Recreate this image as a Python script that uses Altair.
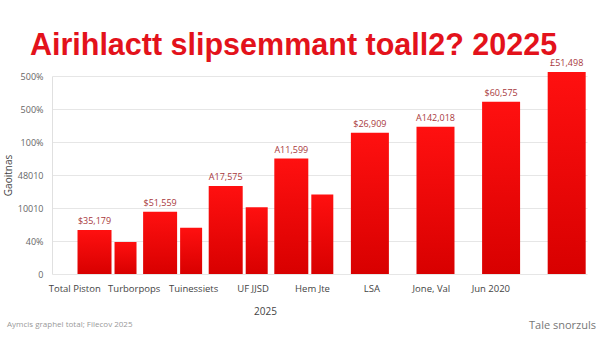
import json
import altair as alt
import pandas as pd

categories = ["Total Piston", "Turborpops", "Tuinessiets", "UF JJSD",
              "Hem Jte", "LSA", "Jone, Val", "Jun 2020"]
primary = [1.33, 1.89, 2.67, 3.50, 4.28, 4.46, 5.22, 6.12]
secondary = [0.97, 1.40, 2.02, 2.41, None, None, None, None]
bar_labels = ["$35,179", "$51,559", "A17,575", "A11,599",
              "$26,909", "A142,018", "$60,575", "£51,498"]
y_ticks = [0, 1, 2, 3, 4, 5, 6]
y_tick_labels = ["0", "40%", "10010", "48010", "100%", "500%", "500%"]
title_text = "Airihlactt slipsemmant toall2? 20225"
y_title = "Gaoitnas"
x_title = "2025"
footer_left = ["Aymcis graphel total; Filecov 2025"]
footer_right = ["Tale snorzuls"]

df = pd.DataFrame({
    "category": categories,
    "primary": primary,
    "secondary": secondary,
    "label": bar_labels,
})
df["paired"] = df["secondary"].notna()
df_pair = df[df["paired"]]
df_single = df[~df["paired"]]

RED = alt.Gradient(
    gradient="linear",
    stops=[alt.GradientStop(color="#ff1010", offset=0),
           alt.GradientStop(color="#d80000", offset=1)],
    x1=0, x2=0, y1=0, y2=1,
)

xscale = alt.Scale(domain=categories, paddingInner=0.5, paddingOuter=0.328, align=0.909)
X = alt.X("category:N", scale=xscale, axis=None, sort=categories)

label_expr = json.dumps(y_tick_labels) + "[datum.value]"
yaxis = alt.Axis(values=y_ticks, labelExpr=label_expr, title=y_title,
                 grid=True, gridColor="#e6e6e6", domain=True, domainColor="#e0e0e0",
                 ticks=False, labelPadding=9, labelColor="#666", labelFontSize=9,
                 labelFont="Open Sans", titleFont="Open Sans", titleFontSize=10,
                 titleFontWeight="normal", titleColor="#444", titlePadding=4)
yscale = alt.Scale(domain=[0, 6], nice=False)

bars_p = alt.Chart(df_pair).mark_bar(color=RED, size=34, xOffset=-13).encode(
    x=X, y=alt.Y("primary:Q", scale=yscale, axis=yaxis))
bars_s = alt.Chart(df_pair).mark_bar(color=RED, size=22, xOffset=18).encode(
    x=X, y=alt.Y("secondary:Q", scale=yscale, axis=yaxis))
bars_1 = alt.Chart(df_single).mark_bar(color=RED, size=38).encode(
    x=X, y=alt.Y("primary:Q", scale=yscale, axis=yaxis))

txt_kw = dict(baseline="bottom", dy=-4, fontSize=9, color="#a8383c", font="Open Sans")
text_p = alt.Chart(df_pair).mark_text(xOffset=-13, **txt_kw).encode(
    x=X, y=alt.Y("primary:Q", scale=yscale, axis=yaxis), text="label:N")
text_1 = alt.Chart(df_single).mark_text(**txt_kw).encode(
    x=X, y=alt.Y("primary:Q", scale=yscale, axis=yaxis), text="label:N")

bars = alt.layer(bars_p, bars_s, bars_1, text_p, text_1)

axis_layer = alt.Chart(df).mark_point(opacity=0).encode(
    x=alt.X("category:N", sort=categories,
            scale=alt.Scale(type="point", domain=categories, padding=1.1, align=0.187),
            axis=alt.Axis(orient="bottom", title=x_title, domain=False, ticks=False,
                          labelAngle=0, labelPadding=9, labelColor="#444", labelFontSize=9.5,
                          labelFont="Open Sans", titleFont="Open Sans", titleFontSize=10,
                          titleFontWeight="normal", titleColor="#444", titlePadding=14,
                          titleX=213)),
    y=alt.value(0),
)

foot_l = alt.Chart(pd.DataFrame({"t": footer_left})).mark_text(
    align="left", baseline="middle", fontSize=8, color="#999", font="Open Sans"
).encode(text="t:N", x=alt.value(-45), y=alt.value(249))
foot_r = alt.Chart(pd.DataFrame({"t": footer_right})).mark_text(
    align="right", baseline="middle", fontSize=11, color="#777", font="Open Sans"
).encode(text="t:N", x=alt.value(544), y=alt.value(250))

chart = alt.layer(bars, axis_layer, foot_l, foot_r).resolve_scale(x="independent").properties(
    width=535, height=198,
    autosize=alt.AutoSizeParams(type="none"),
    padding={"left": 52, "top": 76, "right": 13, "bottom": 64},
    title=alt.TitleParams(title_text, fontSize=30.5, fontWeight="bold", color="#e3121b",
                          font="Liberation Sans", anchor="middle", offset=-2, dx=-26),
    background="white",
).configure_view(stroke=None)

chart.save("out.html", embed_options={"renderer": "svg", "actions": False})
